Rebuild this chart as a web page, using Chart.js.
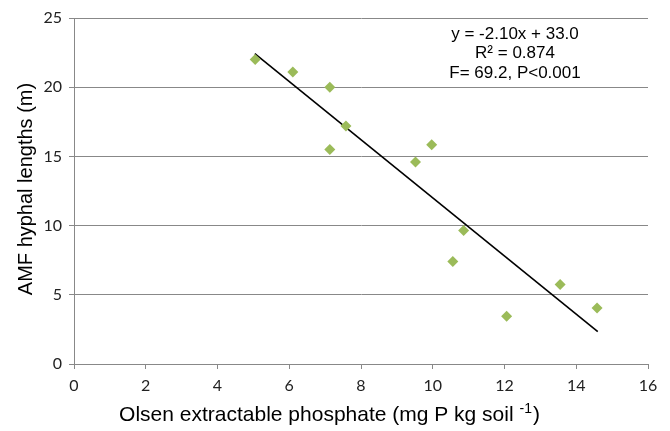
<!DOCTYPE html>
<html>
<head>
<meta charset="utf-8">
<script src="https://cdn.jsdelivr.net/npm/chart.js@4.4.1/dist/chart.umd.min.js"></script>
<style>
  html, body { margin: 0; padding: 0; background: #fff; }
  #wrap { width: 670px; height: 431px; position: relative; }
</style>
</head>
<body>
<div id="wrap"><canvas id="c"></canvas></div>
<script>
// Data
const phosphate = [5.05, 6.1, 7.13, 7.13, 7.58, 9.52, 9.97, 10.86, 10.56, 12.06, 13.55, 14.58];
const hyphalLength = [22.0, 21.1, 20.0, 15.5, 17.2, 14.6, 15.85, 9.65, 7.4, 3.45, 5.75, 4.05];
const trendX = [5.04, 14.6];
const trendY = [22.42, 2.34];
const xTicks = [0, 2, 4, 6, 8, 10, 12, 14, 16];
const yTicks = [0, 5, 10, 15, 20, 25];
const annotationLines = ["y = -2.10x + 33.0", "R\u00B2 = 0.874", "F= 69.2, P<0.001"];
const yTitle = "AMF hyphal lengths (m)";
const xTitle = "Olsen extractable phosphate (mg P kg soil ";
const xTitleSup = "-1";
const xTitleEnd = ")";

const scatterPts = phosphate.map((x, i) => ({ x: x, y: hyphalLength[i] }));
const trendPts = trendX.map((x, i) => ({ x: x, y: trendY[i] }));

const textPlugin = {
  id: 'texts',
  afterDraw(chart) {
    const ctx = chart.ctx;
    const a = chart.chartArea;
    ctx.save();
    ctx.fillStyle = '#000';
    // annotation
    ctx.font = '17px "Liberation Sans", Arial, sans-serif';
    ctx.textAlign = 'center';
    ctx.textBaseline = 'middle';
    const cx = a.left + 441;
    annotationLines.forEach((t, i) => ctx.fillText(t, cx, 34 + i * 19.7));
    // y title
    ctx.font = '20px "Liberation Sans", Arial, sans-serif';
    ctx.save();
    ctx.translate(26, (a.top + a.bottom) / 2 - 2);
    ctx.rotate(-Math.PI / 2);
    ctx.textAlign = 'center';
    ctx.textBaseline = 'middle';
    ctx.fillText(yTitle, 0, 0);
    ctx.restore();
    // x title with superscript
    ctx.textBaseline = 'alphabetic';
    ctx.textAlign = 'left';
    const f1 = '21px "Liberation Sans", Arial, sans-serif';
    const f2 = '14px "Liberation Sans", Arial, sans-serif';
    ctx.font = f1;
    const w1 = ctx.measureText(xTitle).width;
    const w3 = ctx.measureText(xTitleEnd).width;
    ctx.font = f2;
    const w2 = ctx.measureText(xTitleSup).width;
    const total = w1 + w2 + w3;
    let x0 = 329 - total / 2;
    const by = 421;
    ctx.font = f1;
    ctx.fillText(xTitle, x0, by);
    ctx.font = f2;
    ctx.fillText(xTitleSup, x0 + w1, by - 8);
    ctx.font = f1;
    ctx.fillText(xTitleEnd, x0 + w1 + w2 + 1, by);
    ctx.restore();
  }
};

new Chart(document.getElementById('c'), {
  type: 'scatter',
  data: {
    datasets: [
      {
        label: 'trend',
        type: 'line',
        data: trendPts,
        borderColor: '#000',
        borderWidth: 1.6,
        pointRadius: 0,
        fill: false,
        order: 2
      },
      {
        label: 'AMF',
        data: scatterPts,
        pointStyle: 'rectRot',
        pointRadius: 5.5,
        pointHoverRadius: 5.5,
        backgroundColor: '#9BBB59',
        borderColor: '#9BBB59',
        borderWidth: 0,
        order: 1
      }
    ]
  },
  plugins: [textPlugin],
  options: {
    responsive: true,
    maintainAspectRatio: false,
    animation: false,
    layout: { padding: { top: 18, right: 22, left: 0, bottom: 0 } },
    plugins: { legend: { display: false }, tooltip: { enabled: false } },
    scales: {
      x: {
        type: 'linear',
        min: 0, max: 16,
        afterBuildTicks(s) { s.ticks = xTicks.map(v => ({ value: v })); },
        afterFit(s) { s.height = 67; },
        grid: {
          display: true,
          drawOnChartArea: false,
          drawTicks: true,
          tickLength: 5,
          color: '#888',
          lineWidth: 1
        },
        border: { display: true, color: '#888', width: 1 },
        ticks: {
          color: '#222',
          font: { family: 'Lato, "Open Sans", sans-serif', size: 16 },
          padding: 7,
          maxRotation: 0
        }
      },
      y: {
        type: 'linear',
        min: 0, max: 25,
        afterBuildTicks(s) { s.ticks = yTicks.map(v => ({ value: v })); },
        afterFit(s) { s.width = 74; },
        grid: {
          display: true,
          drawOnChartArea: true,
          drawTicks: true,
          tickLength: 5,
          color: '#888',
          lineWidth: 1
        },
        border: { display: true, color: '#888', width: 1 },
        ticks: {
          color: '#222',
          font: { family: 'Lato, "Open Sans", sans-serif', size: 16 },
          padding: 7
        }
      }
    }
  }
});
</script>
</body>
</html>
